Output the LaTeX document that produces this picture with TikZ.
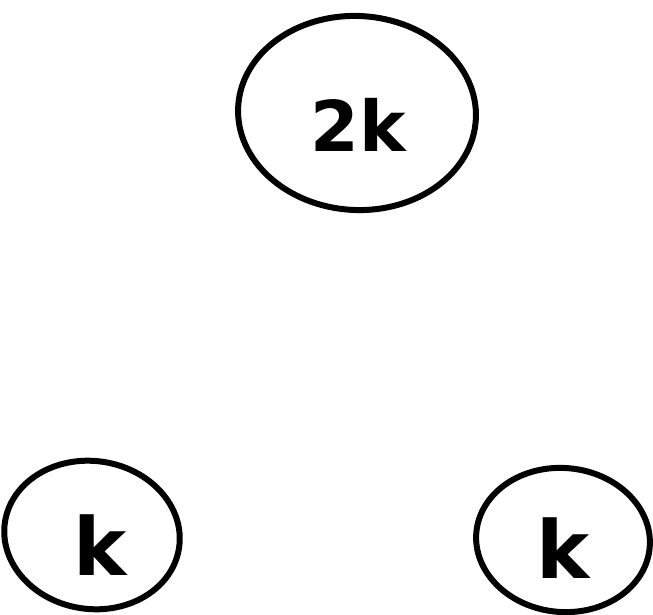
\documentclass[tikz,border=0pt]{standalone}
\usepackage{fontspec}
\setmainfont{DejaVu Sans}
\usetikzlibrary{shapes.geometric}
\begin{document}
\begin{tikzpicture}[x=1pt,y=-1pt,
  blob/.style={draw=black,line width=6pt,ellipse,inner sep=0pt}]
\useasboundingbox (0,0) rectangle (653,615);
\fill[white] (0,0) rectangle (653,615);
\node[blob,minimum width=238pt,minimum height=194pt,rotate=-3] (top) at (357,113) {};
\node at (358,125) {\bfseries\fontsize{70}{70}\selectfont 2k};
\node[blob,minimum width=176pt,minimum height=148pt,rotate=-8] (left) at (92,535) {};
\node at (100,545) {\bfseries\fontsize{80}{80}\selectfont k};
\node[blob,minimum width=174pt,minimum height=144pt,rotate=-5] (right) at (563,540) {};
\node at (563,548) {\bfseries\fontsize{80}{80}\selectfont k};
\end{tikzpicture}
\end{document}
